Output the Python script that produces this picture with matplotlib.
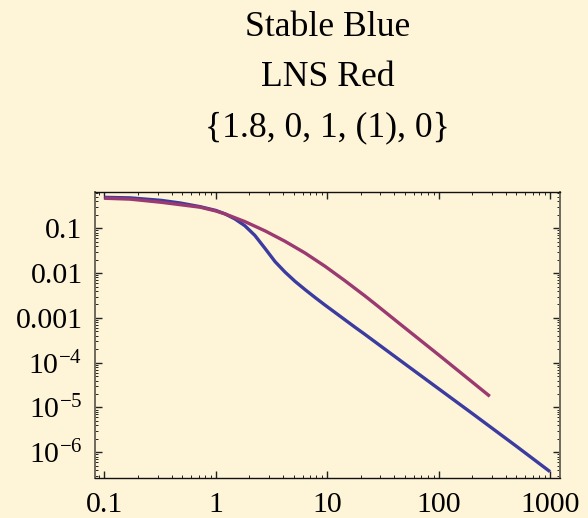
import matplotlib
matplotlib.use("Agg")
import matplotlib.pyplot as plt
from matplotlib.ticker import FixedLocator, FixedFormatter, LogLocator, NullFormatter

# values (log-log axes)
stable_x = [0.1, 0.17, 0.324, 0.48, 0.724, 1.0, 1.21, 1.48, 1.82, 2.24, 2.76, 3.40,
            4.17, 5.13, 6.31, 7.76, 9.55, 11.7, 14.4, 17.7, 21.8, 30, 45, 100,
            200, 500, 1000]
stable_y = [0.490, 0.477, 0.419, 0.366, 0.303, 0.250, 0.209, 0.162, 0.114, 0.0692,
            0.0356, 0.0180, 0.01057, 0.00656, 0.00429, 0.00286, 0.00193, 0.00133,
            9.08e-4, 6.22e-4, 4.28e-4, 2.38e-4, 1.13e-4, 2.62e-5, 7.38e-6, 1.36e-6,
            3.7e-7]

lns_x = [0.1, 0.17, 0.324, 0.724, 1.0, 1.21, 1.82, 2.76, 4.17, 6.31, 9.55, 14.4,
         21.8, 26.8, 45, 103, 288]
lns_y = [0.468, 0.447, 0.380, 0.295, 0.243, 0.209, 0.141, 0.0877, 0.0513, 0.0281,
         0.01419, 0.00676, 0.00309, 0.00206, 7.31e-4, 1.41e-4, 1.78e-5]

x_ticks = [0.1, 1, 10, 100, 1000]
x_labels = ["0.1", "1", "10", "100", "1000"]
y_ticks = [0.1, 0.01, 0.001, 1e-4, 1e-5, 1e-6]
y_labels = ["0.1", "0.01", "0.001", r"$\mathregular{10^{-4}}$",
            r"$\mathregular{10^{-5}}$", r"$\mathregular{10^{-6}}$"]

title_lines = ["Stable Blue", "LNS Red", "{1.8, 0, 1, (1), 0}"]

bg = "#fef4d8"
plt.rcParams["font.family"] = ["Liberation Serif", "DejaVu Serif"]
plt.rcParams["mathtext.fontset"] = "stix"

fig = plt.figure(figsize=(5.88, 5.18), dpi=100, facecolor=bg)
ax = fig.add_axes([95 / 588, 1 - 478 / 518, 465 / 588, 286 / 518], facecolor=bg)

ax.plot(stable_x, stable_y, color="#3b3ba0", lw=2.4, solid_capstyle="butt")
ax.plot(lns_x, lns_y, color="#9a3a70", lw=2.4, solid_capstyle="butt")

ax.set_xscale("log")
ax.set_yscale("log")
ax.set_xlim(0.0822, 1229)
ax.set_ylim(2.67e-7, 0.645)

ax.xaxis.set_major_locator(FixedLocator(x_ticks))
ax.xaxis.set_major_formatter(FixedFormatter(x_labels))
ax.yaxis.set_major_locator(FixedLocator(y_ticks))
ax.yaxis.set_major_formatter(FixedFormatter(y_labels))
ax.xaxis.set_minor_locator(LogLocator(base=10, subs=range(2, 10), numticks=20))
ax.yaxis.set_minor_locator(LogLocator(base=10, subs=range(2, 10), numticks=20))
ax.xaxis.set_minor_formatter(NullFormatter())
ax.yaxis.set_minor_formatter(NullFormatter())

ax.tick_params(which="both", direction="in", top=True, right=True, labelsize=21.5,
               color="#222222")
ax.tick_params(which="major", length=5, width=1)
ax.tick_params(which="minor", length=2.5, width=0.7)
ax.tick_params(axis="x", pad=10)
ax.tick_params(axis="y", pad=9)

for side in ["left", "right"]:
    ax.spines[side].set_color("#6e6a5e")
    ax.spines[side].set_linewidth(1.4)
for side in ["top", "bottom"]:
    ax.spines[side].set_color("#111111")
    ax.spines[side].set_linewidth(1.0)

# three centred title lines above the frame
cx = (95 + 560) / 2 / 588
for line, base in zip(title_lines, [36, 85.5, 136]):
    fig.text(cx, 1 - base / 518, line, ha="center", va="baseline", fontsize=25.7)

fig.savefig("out.png", dpi=100, facecolor=bg)
